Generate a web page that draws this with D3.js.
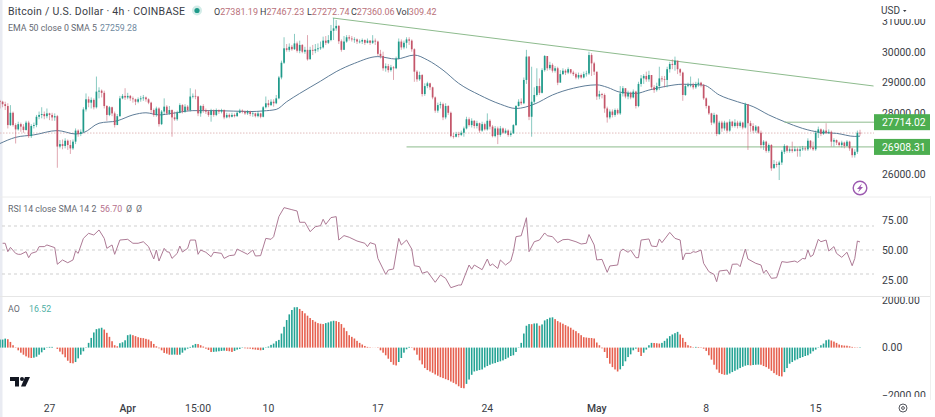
<!DOCTYPE html>
<html>
<head>
<meta charset="utf-8">
<script src="https://cdn.jsdelivr.net/npm/d3@7"></script>
<style>
html, body { margin: 0; padding: 0; background: #fff; }
svg { display: block; font-family: Roboto, sans-serif; }
</style>
</head>
<body>
<div id="chart"></div>
<script>
// values, one entry per 4h candle
var firstOpen = 28400;
var closes = [28380,28300,28240,27620,28020,27620,27480,27650,27570,27460,27700,27260,27590,27620,27890,27950,27980,27910,28000,27950,27870,27910,26920,27000,26940,27110,26970,26860,27080,27440,27330,27400,28130,28460,28350,28440,28200,28710,28740,28670,28240,27950,28200,28000,27620,27910,28490,28570,28520,28570,28490,28460,28380,28460,28490,28520,28460,28350,28110,27950,28160,27650,28060,28220,28000,28110,27870,27810,28020,28270,28060,28220,28110,28550,28570,28550,28000,28240,28110,28060,27950,28090,27950,28110,28060,28110,27870,27950,27890,27950,27910,28020,28090,28060,28000,28060,27980,28000,27910,28000,27890,28200,28330,28270,28380,28330,28490,29170,29650,30120,30070,30170,30090,30280,30040,30230,30010,30070,29760,30070,30040,30090,30120,30150,30370,30300,30390,30690,30770,30850,30350,30070,30340,30480,30440,30410,30410,30340,30340,30390,30300,30370,30300,30370,30340,29940,29870,29470,29540,29410,29500,29470,29790,30340,30150,30300,30410,30370,30090,29360,29110,29250,28630,28890,28980,28850,28520,28090,28270,28300,27870,28240,28020,27260,27240,27330,27300,27370,27510,27810,27620,27760,27590,27680,27440,27650,27480,27760,27570,27260,27510,27300,27510,27370,27440,27300,27350,27620,28240,28380,28330,29090,29850,27890,28380,28600,28890,28670,29410,29870,29470,29580,29390,29470,29000,29280,29390,29330,29440,29330,29280,29170,29250,29170,29280,29300,29900,29630,29360,28550,28630,28600,28160,27870,28060,27950,28110,28000,28650,28820,28550,28670,28520,28710,28240,28960,29140,29220,29110,29250,28850,28760,28890,29140,29110,29090,29440,29610,29580,29720,29440,29330,28600,28890,28920,28920,28850,28960,29000,28920,28490,28240,28000,27700,27950,27330,27700,27510,27700,27440,27730,27590,27700,27590,27700,27540,28300,27680,27590,27440,27570,27370,26970,27080,26780,26970,26210,26350,26320,26400,26750,26940,26780,26830,26780,26830,26780,26830,26860,26830,27110,26890,26830,27370,27480,27330,27440,27370,27400,27080,27130,27050,26970,27050,26940,27080,26860,26640,26750,27370,27360.06];
var highs = [28440,28410,28380,28330,28270,28060,27680,27730,27700,27650,27760,27760,27650,27700,27950,28060,28200,28060,28160,28020,28020,28000,27950,27130,27150,27190,27150,27130,27150,27510,27480,27480,28200,28650,28550,28520,28490,29200,28850,28780,28740,28270,28240,28220,28060,27980,28570,28630,28820,28670,28600,28550,28480,28520,28570,28600,28550,28490,28380,28160,28220,28200,28110,28490,28270,28240,28130,28060,28090,28330,28300,28300,28270,28820,28650,28780,28570,28270,28300,28160,28110,28150,28130,28160,28130,28150,28130,28020,28000,28020,28000,28060,28150,28130,28090,28110,28090,28060,28020,28060,28020,28240,28550,28440,28460,28460,28600,29220,29720,30480,30260,30280,30230,30590,30340,30370,30260,30170,30550,30170,30230,30260,30280,30340,30500,30520,30550,30880,31100,31040,30880,30410,30520,30550,30550,30520,30480,30440,30410,30440,30410,30440,30390,30550,30440,30370,30070,30010,29630,29610,29580,29540,29850,30440,30410,30370,30480,30480,30410,30120,29410,29360,29280,28980,29030,29000,28870,28550,28350,28380,28350,28330,28270,28060,27370,27400,27400,27440,27570,27890,27870,27840,27780,27760,27700,27730,27700,28000,27810,27620,27590,27570,27590,27540,27510,27480,27440,27650,28270,28460,28490,29170,30070,29870,29520,28850,29470,29140,29470,29900,29790,29680,29630,29540,29520,29410,29470,29440,29500,29440,29390,29330,29330,29300,29360,29390,30010,29960,29680,29280,28740,28670,28650,28220,28130,28130,28160,28160,28890,28890,28820,28740,28710,28780,28740,29030,29250,29280,29360,29390,29250,28920,29000,29520,29220,29220,29520,29680,29760,29850,29580,29470,29360,28960,29000,29200,29000,29030,29140,29030,28960,28520,28270,28020,28020,27980,27760,27760,27760,27730,27810,27760,27810,27760,27760,27730,28350,28270,27760,27680,27620,27590,27440,27130,27110,27020,27000,26480,26430,26460,26810,27000,26970,26890,27080,26920,26890,26920,26940,26920,27190,27130,27080,27440,27570,27510,27480,27680,27480,27440,27190,27150,27080,27110,27080,27130,27110,26890,26830,27440,27467.23];
var lows = [28160,28200,28110,27510,27590,27570,27020,27440,27400,27370,27440,27200,27200,27510,27550,27810,27840,27810,27840,27780,27760,27760,26230,26860,26830,26860,26810,26680,26810,27000,27240,27260,27370,28060,28200,28160,28130,28160,28490,28520,28160,27760,27910,27910,27540,27700,27890,28460,28440,28460,28410,28350,28270,28330,28380,28410,28380,28300,28020,27890,27890,27570,27620,27950,27950,27950,27240,27760,27760,28000,28000,28020,28060,28060,28490,28460,27910,27890,28020,27980,27890,27730,27890,27910,27980,28000,27810,27840,27840,27870,27870,27890,28000,28000,27950,27950,27910,27890,27870,27870,27840,27870,28160,28200,28240,28220,28300,28460,29110,29610,30010,30010,30040,30070,29980,29960,29960,29940,29720,29830,29900,29960,30010,30070,30110,30230,30260,30350,30390,30690,30260,30010,30280,30300,30370,30340,30300,30260,30280,30260,30230,30280,30230,30260,30230,29870,29790,29390,29360,29330,29360,29090,29440,29760,30070,30090,30120,30230,30010,29030,29030,29060,28550,28570,28820,28760,28460,28020,28020,28160,27780,27810,27950,27220,27180,27220,27220,27260,27240,27480,27570,27540,27510,27510,27370,27400,27440,27440,27480,27220,27220,27000,27240,27330,27330,27240,27240,27330,27590,28220,28270,28300,28960,27780,27240,28300,28550,28600,28650,29360,29390,29410,29330,29330,28920,29140,29250,29250,29280,29280,29220,29110,29110,29130,29140,29200,29250,29220,29250,28440,28460,28490,28020,27700,27810,27870,27890,27950,27950,28550,28490,28460,28460,28490,28160,28200,28870,28960,29030,29030,28780,28670,28710,28760,29030,28850,28850,29330,29440,29390,29280,29220,28410,28570,28850,28850,28780,28800,28870,28850,28440,28160,27950,27620,27650,27260,27300,27400,27440,27370,27400,27540,27540,27510,27540,27480,27510,26810,27400,27350,27370,27330,26860,26810,26720,26720,26130,26260,26240,25830,26320,26680,26720,26720,26720,26750,26590,26590,26780,26780,26780,26830,26780,26780,27200,27260,27300,27330,27330,26920,26920,26970,26920,26890,26860,26920,26780,26560,26560,26680,27272.74];

var emaIndex = [0,6,13,22,29,32,38,45,51,56,61,66,74,83,96,101,106,110,115,123,129,136,145,152,159,164,170,176,184,192,198,205,212,220,229,233,238,244,249,256,262,270,276,283,289,295,301,308,315,321,328,330];
var emaValues = [27020,27220,27300,27440,27330,27370,27680,27760,27950,28020,27950,28000,28090,28090,28060,28080,28130,28380,28650,29050,29360,29630,29850,29770,29900,29740,29410,28980,28600,28300,28160,28300,28600,28820,28930,28850,28690,28650,28760,28890,28950,28920,28600,28380,28220,27950,27730,27510,27380,27350,27250,27259.28];

var rsiIndex = [1,2,3,4,6,7,8,10,11,12,14,15,17,18,21,22,24,26,28,29,30,32,34,36,38,40,41,43,44,46,49,51,53,55,57,59,60,61,63,64,65,66,68,69,70,72,73,75,76,77,79,81,82,85,86,88,90,91,95,97,98,100,102,104,105,107,109,112,114,115,117,119,121,123,124,125,127,129,130,132,134,137,140,141,142,144,145,148,149,151,153,154,156,158,159,161,162,164,167,169,171,173,176,177,180,181,182,185,187,188,189,191,192,194,196,197,198,200,202,203,205,207,209,210,212,214,216,218,221,223,225,226,228,229,231,233,234,237,238,239,241,242,244,245,246,249,250,252,253,254,257,259,261,262,263,265,266,267,269,270,272,274,275,276,279,280,281,283,284,286,287,290,292,293,294,296,298,300,302,305,306,308,309,310,311,312,314,315,317,318,320,321,323,325,327,328,329,330];
var rsiValues = [55.6,55.6,48.6,52.2,47.2,46.4,46.4,48.6,43.6,47.2,48.6,52.8,52.8,54.2,52,38.1,41.7,39.4,41.7,49.2,47.2,59.7,63.9,62.5,66.7,59.7,51.4,54.2,46.4,58.3,58.9,55.6,55.6,56.9,52.8,42.5,50,40.8,51.4,48.6,48.1,43,47.2,53.3,48.3,51.4,58.3,58.3,46.4,50,48.1,44.4,48.1,47.2,43,45.3,45.8,50.8,46.4,50,45,45.3,59.7,58.9,61.1,77.8,85.3,83.6,82.5,73.1,73.1,65.3,69.4,70.3,75.6,71.4,77,77.8,58.3,62,60.6,57.5,55.6,52.8,56.1,54.7,43,29.7,33.3,34.2,59.7,54.2,58.3,50.8,36.9,36.1,30.6,32,23.1,29.2,26.4,18.6,20.8,20.8,37.5,34,37.5,33.6,42.5,36.9,38.3,34.6,41.7,37.5,40.8,48.6,61.1,61.9,76.9,48.6,56.9,58.3,64.2,61.9,61.1,56.1,58.6,58.9,56.9,55,55.6,62.9,54.2,41.7,42.2,31.4,36.7,37.5,48.6,50.8,48.1,50,43.6,43.6,58.3,59.2,53.3,52.8,59.2,56.1,64.7,59.7,58.3,41.7,47.2,47.2,48.6,48.1,50,38.9,32,29.7,23.6,32.5,33.3,29.7,38.1,38.3,36.1,50.8,42.5,38.9,37.5,30.6,33.3,26.4,26.9,40.3,39.7,40.8,39.7,43,42.5,50,44.4,45.8,58.9,56.9,58.3,49.2,52.8,47.2,43.9,48.1,36.9,43,57.5,56.7];
var rsiBands = [70, 50, 30];

var aoValues = [340,340,380,355,240,100,-15,-115,-215,-300,-370,-425,-440,-425,-385,-300,-200,-100,-15,30,30,0,-55,-170,-285,-410,-555,-655,-665,-610,-455,-300,-155,-15,200,410,640,780,810,840,765,625,455,270,100,55,185,225,310,525,555,525,485,440,410,400,370,340,270,155,55,-30,-115,-225,-255,-300,-300,-295,-305,-300,-215,-115,-45,30,100,155,150,100,45,-45,-100,-185,-180,-170,-155,-140,-130,-140,-155,-185,-140,-85,-55,-15,-30,-40,-45,-70,-85,-100,-115,-100,-15,45,115,170,270,325,595,880,1165,1405,1590,1705,1710,1635,1550,1450,1350,1250,1165,1095,1035,1010,995,1035,1065,1110,1135,1120,1080,995,840,695,525,455,385,285,200,130,70,30,15,5,-5,-15,-115,-215,-325,-470,-610,-725,-755,-610,-440,-215,-70,30,-15,-115,-300,-540,-710,-865,-950,-1010,-1065,-1135,-1190,-1250,-1290,-1335,-1375,-1435,-1490,-1550,-1635,-1705,-1720,-1535,-1350,-1150,-1010,-980,-950,-925,-840,-780,-725,-680,-655,-610,-580,-540,-485,-425,-355,-325,-185,-15,200,595,925,995,990,1020,1025,925,980,1150,1205,1265,1280,1205,1120,1065,1010,950,895,840,755,695,610,525,440,425,410,405,385,215,100,-30,-185,-440,-680,-825,-925,-1010,-920,-780,-580,-400,-285,-115,-45,-185,-355,-215,-85,100,200,195,185,170,200,285,385,485,555,610,665,555,410,240,100,55,15,30,25,-15,-45,-140,-325,-510,-725,-925,-1065,-1120,-1150,-1145,-1095,-1035,-980,-925,-865,-810,-765,-740,-755,-735,-725,-720,-725,-780,-825,-895,-980,-1080,-1150,-1205,-1220,-1035,-865,-680,-610,-540,-495,-440,-400,-355,-325,-255,-155,-85,-15,100,170,310,340,300,255,200,130,100,85,80,55,30,15,12,16.52];

// 27000.00 sits behind the 26908.31 tag in the picture, so it is left out
var priceTicks = [26000, 28000, 29000, 30000, 31000];
var rsiTicks = [25, 50, 75];
var aoTicks = [-2000, 0, 2000];
var timeIndex = [19, 49, 76, 103, 145, 187, 229, 271, 313];
var timeLabels = ["27", "Apr", "15:00", "10", "17", "24", "May", "8", "15"];

var trendIndex = [127.7, 335.2];
var trendPrice = [31107, 28893];
var levelPrices = [27714.02, 26908.31];
var levelLabels = ["27714.02", "26908.31"];
var levelStart = [301, 156];
var lastPrice = 27360.06;

var upColor = "#1f9a8a", downColor = "#c4566a";
var barUp = "#23a394", barDown = "#e6604f";
var textColor = "#3a3d46";
var legendGray = "#666a73";
var lineGreen = "#8dbb8d";
var axisFont = 10.4;

var width = 935, height = 417, plotRight = 874;

var svg = d3.select("#chart").append("svg")
    .attr("width", width).attr("height", height);

var x = d3.scaleLinear().domain([0, 330]).range([0, 860]);
var yPrice = d3.scaleLinear().domain([26000, 30000]).range([174.8, 52]);
var yRsi = d3.scaleLinear().domain([25, 75]).range([280, 220]);
var yAo = d3.scaleLinear().domain([-2000, 2000]).range([394.9, 300.3]);

var defs = svg.append("defs");
defs.append("clipPath").attr("id", "clip-price").append("rect")
    .attr("x", 875).attr("y", 19).attr("width", 60).attr("height", 177);
defs.append("clipPath").attr("id", "clip-ao").append("rect")
    .attr("x", 875).attr("y", 297).attr("width", 60).attr("height", 100);

// frame lines
svg.append("rect").attr("x", 0).attr("y", 0).attr("width", 2.5).attr("height", height).attr("fill", "#e9ebf2");
svg.append("line").attr("x1", 0).attr("x2", 930).attr("y1", 197).attr("y2", 197).attr("stroke", "#ececec");
svg.append("line").attr("x1", 0).attr("x2", 930).attr("y1", 296.5).attr("y2", 296.5).attr("stroke", "#e6e6e6");
svg.append("line").attr("x1", 930.5).attr("x2", 930.5).attr("y1", 196).attr("y2", 400).attr("stroke", "#efefef");

// last price dotted line
svg.append("line")
    .attr("x1", 0).attr("x2", plotRight)
    .attr("y1", yPrice(lastPrice)).attr("y2", yPrice(lastPrice))
    .attr("stroke", "#e2bcbc").attr("stroke-dasharray", "1.5 1.5");

// EMA
var emaLine = d3.line()
    .x(function(d) { return x(d[0]); })
    .y(function(d) { return yPrice(d[1]); })
    .curve(d3.curveMonotoneX);
svg.append("path")
    .attr("d", emaLine(d3.zip(emaIndex, emaValues)))
    .attr("fill", "none").attr("stroke", "#5f7d98").attr("stroke-width", 1);

// trend and level lines
svg.append("line")
    .attr("x1", x(trendIndex[0])).attr("x2", x(trendIndex[1]))
    .attr("y1", yPrice(trendPrice[0])).attr("y2", yPrice(trendPrice[1]))
    .attr("stroke", lineGreen).attr("stroke-width", 1);
levelPrices.forEach(function(p, k) {
    svg.append("line")
        .attr("x1", x(levelStart[k])).attr("x2", plotRight)
        .attr("y1", yPrice(p)).attr("y2", yPrice(p))
        .attr("stroke", lineGreen).attr("stroke-width", 1);
});

// candles
var candles = closes.map(function(c, i) {
    return { i: i, open: i == 0 ? firstOpen : closes[i - 1], close: c, high: highs[i], low: lows[i] };
});
var candleG = svg.append("g").attr("class", "candles");
candleG.selectAll("line").data(candles).enter().append("line")
    .attr("x1", function(d) { return x(d.i); })
    .attr("x2", function(d) { return x(d.i); })
    .attr("y1", function(d) { return yPrice(d.high); })
    .attr("y2", function(d) { return yPrice(d.low); })
    .attr("stroke", function(d) { return d.close >= d.open ? upColor : downColor; })
    .attr("stroke-opacity", 0.75)
    .attr("stroke-width", 0.7);
candleG.selectAll("rect").data(candles).enter().append("rect")
    .attr("x", function(d) { return x(d.i) - 0.85; })
    .attr("width", 1.7)
    .attr("y", function(d) { return yPrice(Math.max(d.open, d.close)); })
    .attr("height", function(d) { return Math.max(0.7, Math.abs(yPrice(d.open) - yPrice(d.close))); })
    .attr("fill", function(d) { return d.close >= d.open ? upColor : downColor; });

// price axis
svg.append("g").attr("clip-path", "url(#clip-price)")
    .selectAll("text").data(priceTicks).enter().append("text")
    .attr("x", 882).attr("y", function(d) { return yPrice(d); })
    .attr("dy", "0.35em").attr("font-size", axisFont).attr("fill", textColor)
    .text(function(d) { return d3.format(".2f")(d); });

levelPrices.forEach(function(p, k) {
    svg.append("rect")
        .attr("x", 874).attr("width", 56)
        .attr("y", yPrice(p) - 8).attr("height", 16)
        .attr("fill", "#4cae50");
    svg.append("text")
        .attr("x", 882).attr("y", yPrice(p)).attr("dy", "0.36em")
        .attr("font-size", axisFont)
        .attr("fill", "#fff").text(levelLabels[k]);
});

svg.append("text").attr("x", 881).attr("y", 14).attr("font-size", 10).attr("fill", textColor).text("USD");
svg.append("path").attr("d", "M903 10h3.5l-1.75 2z").attr("fill", textColor);

// lightning icon
var bolt = svg.append("g").attr("transform", "translate(860,188)");
bolt.append("circle").attr("r", 6.8).attr("fill", "none").attr("stroke", "#9c5ab0").attr("stroke-width", 1.4);
bolt.append("path").attr("d", "M2 -4.5L-3 1H-0.5L-2 4.5L3 -1H0.5z").attr("fill", "#9c5ab0");

// legends
var legend = svg.append("g").attr("fill", textColor);
legend.append("text").attr("x", 8).attr("y", 15).attr("font-size", 10.5).attr("letter-spacing", 0.25)
    .text("Bitcoin / U.S. Dollar · 4h · COINBASE");
svg.append("circle").attr("cx", 197).attr("cy", 10.5).attr("r", 5).attr("fill", "#d3ece8");
svg.append("circle").attr("cx", 197).attr("cy", 10.5).attr("r", 2.6).attr("fill", "#1f9a8a");

var ohlcLabels = ["O", "H", "L", "C", "Vol"];
var ohlcValues = ["27381.19", "27467.23", "27272.74", "27360.06", "309.42"];
var ohlcX = [214, 260, 307, 351, 396];
ohlcLabels.forEach(function(l, k) {
    var t = svg.append("text").attr("x", ohlcX[k]).attr("y", 15).attr("font-size", 9)
        .attr("fill", textColor);
    t.append("tspan").text(l);
    t.append("tspan").attr("fill", "#b9707a").text(ohlcValues[k]);
});

legend.append("text").attr("x", 8).attr("y", 31).attr("font-size", 8.8).attr("fill", legendGray).text("EMA 50 close 0 SMA 5");
legend.append("text").attr("x", 100).attr("y", 31).attr("font-size", 8.8).attr("fill", "#6f8aa0").text("27259.28");

// RSI pane
rsiBands.forEach(function(b) {
    svg.append("line")
        .attr("x1", 2).attr("x2", plotRight)
        .attr("y1", yRsi(b)).attr("y2", yRsi(b))
        .attr("stroke", "#cfcfcf").attr("stroke-dasharray", "3 3");
});
var rsiLine = d3.line()
    .x(function(d) { return x(d[0]); })
    .y(function(d) { return yRsi(d[1]); });
svg.append("path")
    .attr("d", rsiLine(d3.zip(rsiIndex, rsiValues)))
    .attr("fill", "none").attr("stroke", "#ad7a95").attr("stroke-width", 1);

svg.append("g").selectAll("text").data(rsiTicks).enter().append("text")
    .attr("x", 882).attr("y", function(d) { return yRsi(d); })
    .attr("dy", "0.35em").attr("font-size", axisFont).attr("fill", textColor)
    .text(function(d) { return d3.format(".2f")(d); });

legend.append("text").attr("x", 8).attr("y", 211.5).attr("font-size", 8.8).attr("fill", legendGray).text("RSI 14 close SMA 14 2");
legend.append("text").attr("x", 100).attr("y", 211.5).attr("font-size", 8.8).attr("fill", "#b5708c").text("56.70");
legend.append("text").attr("x", 126).attr("y", 211.5).attr("font-size", 8.8).attr("fill", legendGray).text("Ø");
legend.append("text").attr("x", 136).attr("y", 211.5).attr("font-size", 8.8).attr("fill", legendGray).text("Ø");

// AO pane
svg.append("g").selectAll("rect").data(aoValues).enter().append("rect")
    .attr("x", function(d, i) { return x(i) - 0.8; })
    .attr("width", 1.6)
    .attr("y", function(d) { return Math.min(yAo(d), yAo(0)); })
    .attr("height", function(d) { return Math.abs(yAo(d) - yAo(0)); })
    .attr("fill", function(d, i) { return i == 0 || d >= aoValues[i - 1] ? barUp : barDown; });

svg.append("g").attr("clip-path", "url(#clip-ao)")
    .selectAll("text").data(aoTicks).enter().append("text")
    .attr("x", 882).attr("y", function(d) { return yAo(d); })
    .attr("dy", "0.35em").attr("font-size", axisFont).attr("fill", textColor)
    .text(function(d) { return d == -2000 ? "−2000.00" : d3.format(".2f")(d); });

legend.append("text").attr("x", 8).attr("y", 311.5).attr("font-size", 8.8).attr("fill", legendGray).text("AO");
legend.append("text").attr("x", 29).attr("y", 311.5).attr("font-size", 8.8).attr("fill", "#4eb0a4").text("16.52");

// TradingView mark
var logo = svg.append("g").attr("transform", "translate(10,377)").attr("fill", "#131722");
logo.append("path").attr("d", "M0 0H9V9.5H5V4H0z");
logo.append("circle").attr("cx", 12).attr("cy", 2).attr("r", 2);
logo.append("path").attr("d", "M15 0H20L15.5 9.5H11z");

// time axis
svg.append("g").selectAll("text").data(timeIndex).enter().append("text")
    .attr("x", function(d) { return x(d); }).attr("y", 412)
    .attr("text-anchor", "middle").attr("font-size", axisFont).attr("fill", textColor)
    .attr("font-weight", function(d, i) { return timeLabels[i] == "Apr" || timeLabels[i] == "May" ? 500 : 400; })
    .text(function(d, i) { return timeLabels[i]; });

// settings icon
var gear = svg.append("g").attr("transform", "translate(903,408)").attr("fill", "none").attr("stroke", "#55585f");
gear.append("circle").attr("r", 4);
gear.append("circle").attr("r", 1.4);
</script>
</body>
</html>
